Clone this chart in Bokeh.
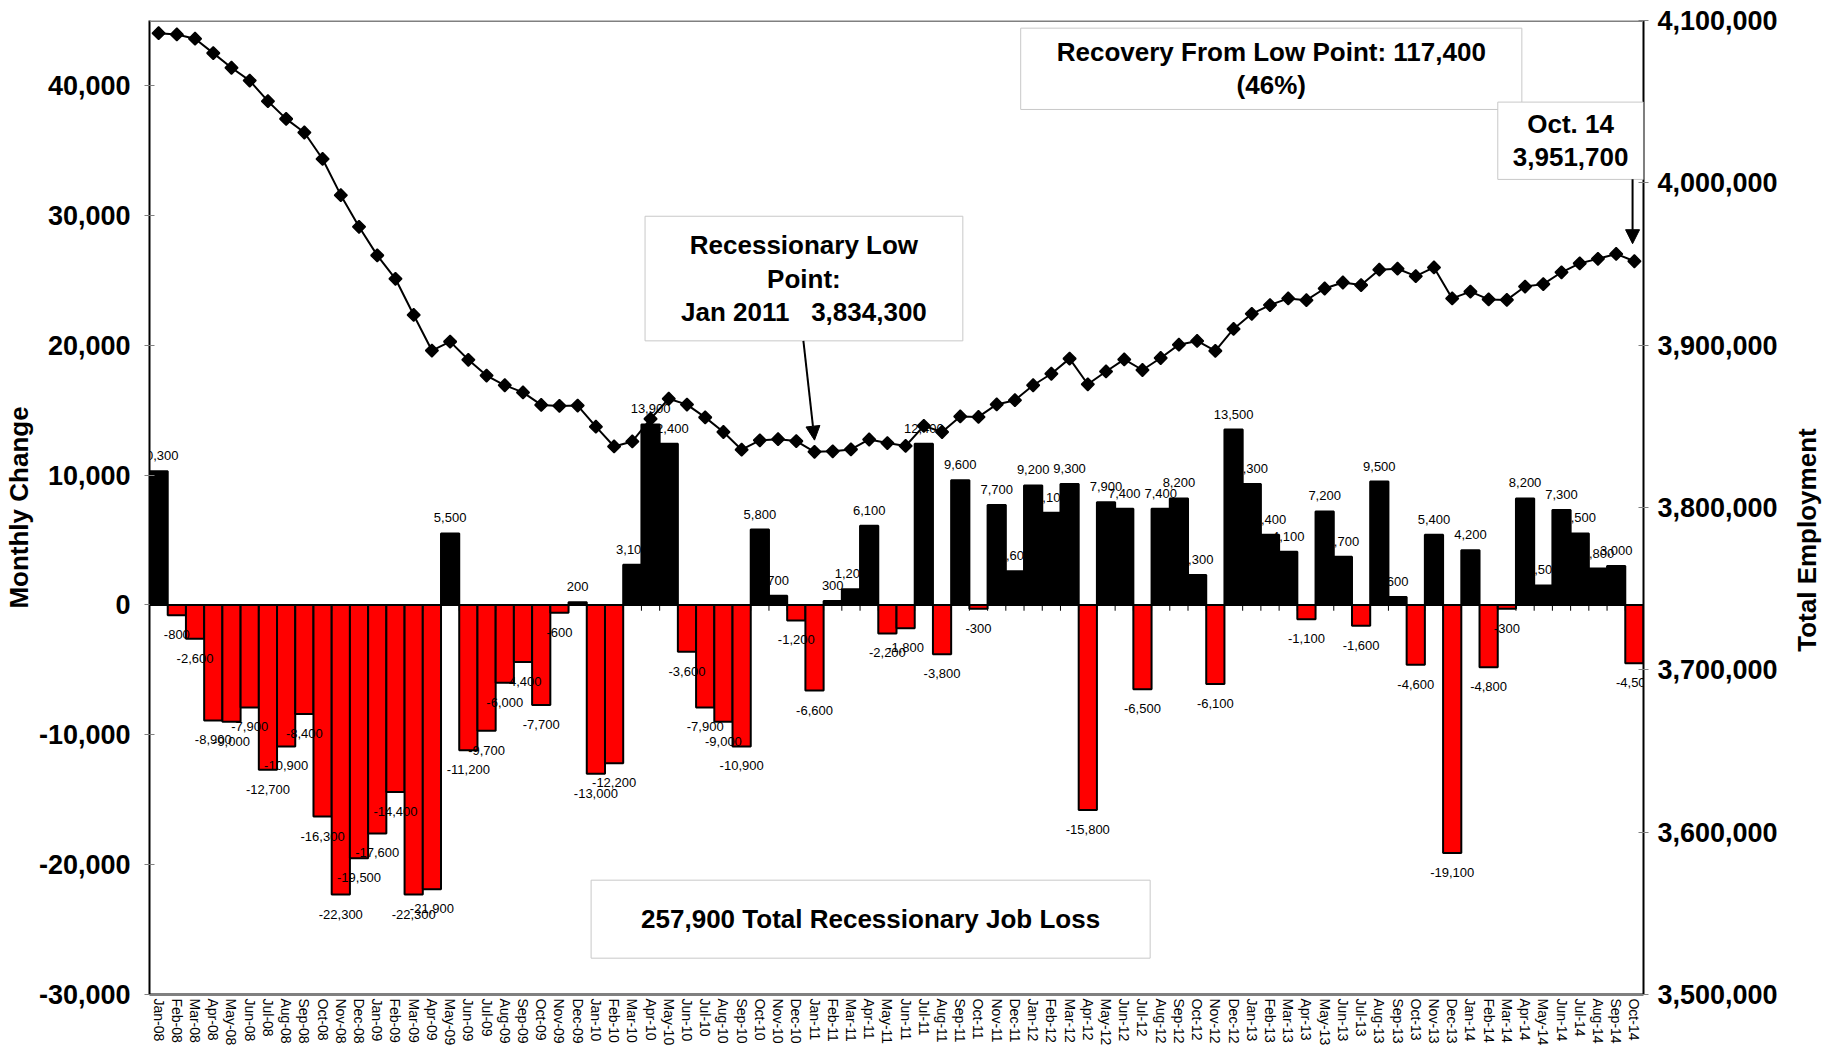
import numpy as np
from bokeh.plotting import figure
from bokeh.layouts import row
from bokeh.models import (ColumnDataSource, Range1d, LinearAxis, FixedTicker,
                          NumeralTickFormatter, Span, Label, Arrow, NormalHead)
from bokeh.core.properties import value
from bokeh.embed import file_html
from bokeh.resources import INLINE

months = [
    "Jan-08", "Feb-08", "Mar-08", "Apr-08", "May-08", "Jun-08", "Jul-08", "Aug-08", "Sep-08", "Oct-08", "Nov-08", "Dec-08",
    "Jan-09", "Feb-09", "Mar-09", "Apr-09", "May-09", "Jun-09", "Jul-09", "Aug-09", "Sep-09", "Oct-09", "Nov-09", "Dec-09",
    "Jan-10", "Feb-10", "Mar-10", "Apr-10", "May-10", "Jun-10", "Jul-10", "Aug-10", "Sep-10", "Oct-10", "Nov-10", "Dec-10",
    "Jan-11", "Feb-11", "Mar-11", "Apr-11", "May-11", "Jun-11", "Jul-11", "Aug-11", "Sep-11", "Oct-11", "Nov-11", "Dec-11",
    "Jan-12", "Feb-12", "Mar-12", "Apr-12", "May-12", "Jun-12", "Jul-12", "Aug-12", "Sep-12", "Oct-12", "Nov-12", "Dec-12",
    "Jan-13", "Feb-13", "Mar-13", "Apr-13", "May-13", "Jun-13", "Jul-13", "Aug-13", "Sep-13", "Oct-13", "Nov-13", "Dec-13",
    "Jan-14", "Feb-14", "Mar-14", "Apr-14", "May-14", "Jun-14", "Jul-14", "Aug-14", "Sep-14", "Oct-14",
]

monthly_change = [
    10300, -800, -2600, -8900, -9000, -7900, -12700, -10900, -8400, -16300, -22300, -19500,
    -17600, -14400, -22300, -21900, 5500, -11200, -9700, -6000, -4400, -7700, -600, 200,
    -13000, -12200, 3100, 13900, 12400, -3600, -7900, -9000, -10900, 5800, 700, -1200,
    -6600, 300, 1200, 6100, -2200, -1800, 12400, -3800, 9600, -300, 7700, 2600,
    9200, 7100, 9300, -15800, 7900, 7400, -6500, 7400, 8200, 2300, -6100, 13500,
    9300, 5400, 4100, -1100, 7200, 3700, -1600, 9500, 600, -4600, 5400, -19100,
    4200, -4800, -300, 8200, 1500, 7300, 5500, 2800, 3000, -4500,
]

total_employment = [
    4092200, 4091400, 4088800, 4079900, 4070900, 4063000, 4050300, 4039400, 4031000, 4014700, 3992400, 3972900,
    3955300, 3940900, 3918600, 3896700, 3902200, 3891000, 3881300, 3875300, 3870900, 3863200, 3862600, 3862800,
    3849800, 3837600, 3840700, 3854600, 3867000, 3863400, 3855500, 3846500, 3835600, 3841400, 3842100, 3840900,
    3834300, 3834600, 3835800, 3841900, 3839700, 3837900, 3850300, 3846500, 3856100, 3855800, 3863500, 3866100,
    3875300, 3882400, 3891700, 3875900, 3883800, 3891200, 3884700, 3892100, 3900300, 3902600, 3896500, 3910000,
    3919300, 3924700, 3928800, 3927700, 3934900, 3938600, 3937000, 3946500, 3947100, 3942500, 3947900, 3928800,
    3933000, 3928200, 3927900, 3936100, 3937600, 3944900, 3950400, 3953200, 3956200, 3951700,
]

left_ticks = [-30000, -20000, -10000, 0, 10000, 20000, 30000, 40000]
right_ticks = [3500000, 3600000, 3700000, 3800000, 3900000, 4000000, 4100000]

FONT = "Liberation Sans"
n = len(months)
idx = list(range(n))
H = 1048
TITLE_W = 34

bar_src = ColumnDataSource(dict(
    x=idx, v=monthly_change,
    c=["#000000" if v >= 0 else "#FF0000" for v in monthly_change],
))
pos = [i for i in idx if monthly_change[i] >= 0]
neg = [i for i in idx if monthly_change[i] < 0]
pos_src = ColumnDataSource(dict(x=pos, y=[monthly_change[i] for i in pos],
                                t=[f"{monthly_change[i]:,}" for i in pos]))
neg_src = ColumnDataSource(dict(x=neg, y=[monthly_change[i] for i in neg],
                                t=[f"{monthly_change[i]:,}" for i in neg]))

p = figure(width=1823 - TITLE_W, height=H, output_backend="svg", toolbar_location=None,
           x_range=Range1d(-0.5, n - 0.5), y_range=Range1d(-30000, 45000),
           min_border_left=142, min_border_right=146, min_border_top=20, min_border_bottom=53)
p.extra_y_ranges = {"emp": Range1d(3500000, 4100000)}
p.outline_line_color = None
p.grid.visible = False
p.background_fill_color = "white"

# x axis
p.xaxis.ticker = FixedTicker(ticks=idx)
p.xaxis.major_label_overrides = {i: m for i, m in enumerate(months)}
p.xaxis.major_label_orientation = "vertical"
p.xaxis.major_label_text_font = FONT
p.xaxis.major_label_text_font_size = "14px"
p.xaxis.major_label_text_color = "#000000"
p.xaxis.major_label_standoff = 4
p.xaxis.major_tick_line_color = None
p.xaxis.major_tick_out = 0
p.xaxis.major_tick_in = 0
p.xaxis.minor_tick_line_color = None
p.xaxis.axis_line_color = "#808080"
p.xaxis.axis_line_width = 3

# left axis
yl = p.yaxis[0]
yl.ticker = FixedTicker(ticks=left_ticks)
yl.formatter = NumeralTickFormatter(format="0,0")
yl.major_label_text_font = FONT
yl.major_label_text_font_style = "bold"
yl.major_label_text_font_size = "27px"
yl.major_label_text_color = "#000000"
yl.major_tick_in = 5
yl.major_tick_out = 5
yl.major_tick_line_color = "#808080"
yl.minor_tick_line_color = None
yl.major_label_standoff = 14
yl.axis_line_color = "#000000"
yl.axis_line_width = 2
yl.axis_label = "Monthly Change"
yl.axis_label_text_font = FONT
yl.axis_label_text_font_style = "bold"
yl.axis_label_text_font_size = "26px"
yl.axis_label_text_color = "#000000"
yl.axis_label_standoff = 2

# right axis (values)
yr = LinearAxis(y_range_name="emp", ticker=FixedTicker(ticks=right_ticks),
                formatter=NumeralTickFormatter(format="0,0"))
yr.major_label_text_font = FONT
yr.major_label_text_font_style = "bold"
yr.major_label_text_font_size = "27px"
yr.major_label_text_color = "#000000"
yr.major_tick_in = 5
yr.major_tick_out = 5
yr.major_tick_line_color = "#808080"
yr.minor_tick_line_color = None
yr.major_label_standoff = 9
yr.axis_line_color = "#000000"
yr.axis_line_width = 2
p.add_layout(yr, "right")

# top border
p.add_layout(Span(location=45000, dimension="width", line_color="#808080", line_width=3))

# bars
p.vbar(x="x", top="v", bottom=0, width=1.0, fill_color="c", line_color="#000000",
       line_width=2, source=bar_src)
p.add_layout(Span(location=0, dimension="width", line_color="#000000", line_width=2))
bounds = [i + 0.5 for i in idx[:-1]]
p.segment(x0=bounds, y0=[0] * len(bounds), x1=bounds, y1=[-450] * len(bounds),
          line_color="#000000", line_width=1)

# bar labels
p.text(x="x", y="y", text="t", source=pos_src, text_align="center", text_baseline="bottom",
       y_offset=-11, text_font=value(FONT), text_font_size="13px", text_color="#000000")
p.text(x="x", y="y", text="t", source=neg_src, text_align="center", text_baseline="top",
       y_offset=15, text_font=value(FONT), text_font_size="13px", text_color="#000000")

# employment line
p.line(x=idx, y=total_employment, y_range_name="emp", line_color="#000000", line_width=2)
p.scatter(x=idx, y=total_employment, y_range_name="emp", marker="square", angle=np.pi / 4,
          size=9, fill_color="#000000", line_color="#000000", line_width=1.5)

# annotation boxes; padding = (left, right, top, bottom)
def box(x, y, text, padx, pady):
    lab = Label(x=x, y=y, text=text, text_align="center", text_baseline="middle",
                text_font=FONT, text_font_size="26px", text_font_style="bold",
                text_color="#000000", text_line_height=1.11,
                background_fill_color="white", border_line_color="#C8C8C8",
                border_line_width=1, padding=(padx, padx, pady, pady))
    p.add_layout(lab)

NB = "\u00a0"
box(61.07, 41280, "Recovery From Low Point: 117,400\n(46%)", 36, 9)
box(35.42, 25130, "Recessionary Low\nPoint:\nJan 2011" + NB * 3 + "3,834,300", 36, 14)
box(77.5, 35740, "Oct. 14\n3,951,700", 15, 7)
box(39.08, -24200, "257,900 Total Recessionary Job Loss", 50, 24)

p.add_layout(Arrow(end=NormalHead(size=14, fill_color="#000000", line_color="#000000"),
                   x_start=35.39, y_start=3902670, x_end=36, y_end=3841500,
                   y_range_name="emp", line_color="#000000", line_width=2))
p.add_layout(Arrow(end=NormalHead(size=14, fill_color="#000000", line_color="#000000"),
                   x_start=80.9, y_start=4002250, x_end=80.9, y_end=3962500,
                   y_range_name="emp", line_color="#000000", line_width=2))

# right-hand axis title in a narrow strip, reading bottom-to-top
t = figure(width=TITLE_W, height=H, output_backend="svg", toolbar_location=None,
           x_range=Range1d(0, 1), y_range=Range1d(0, H),
           x_axis_location=None, y_axis_location=None,
           min_border_left=0, min_border_right=0, min_border_top=0, min_border_bottom=0)
t.outline_line_color = None
t.grid.visible = False
t.text(x=[0.5], y=[489], text=["Total Employment"], angle=np.pi / 2,
       text_align="center", text_baseline="middle", text_font=value(FONT),
       text_font_size="26px", text_font_style="bold", text_color="#000000")

layout = row(p, t, spacing=0)
open("out.html", "w").write(file_html(layout, INLINE))
